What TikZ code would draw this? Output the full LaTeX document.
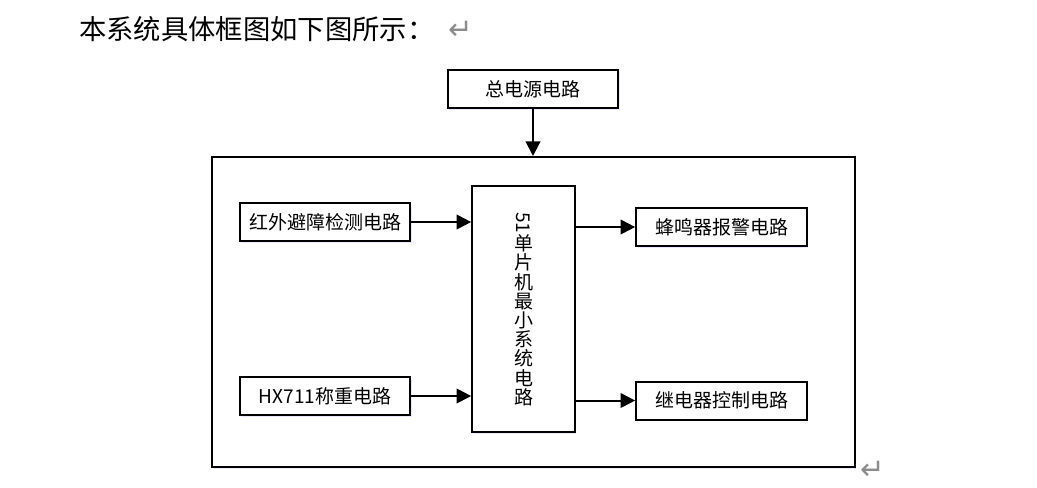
\documentclass[tikz,border=0pt]{standalone}
\usepackage{fontspec}
\setmainfont{Noto Sans CJK SC}
\newfontfamily\symfont{DejaVu Sans}
\usepackage{graphicx}
\usetikzlibrary{arrows.meta}
\usetikzlibrary{shadows}

\begin{document}
\begin{tikzpicture}[x=0.75pt,y=-0.75pt,
    blk/.style={draw,line width=1.5pt,fill=white,inner sep=0pt,
        minimum width=128pt,minimum height=28.5pt,
        font=\fontsize{14.25pt}{19pt}\selectfont,
        drop shadow={shadow xshift=1.2pt,shadow yshift=-1.2pt,fill=blue!12,opacity=0.7}},
    arr/.style={-{Triangle[length=11pt,width=11pt]},line width=1.5pt},
    ret/.style={text=black!45,inner sep=0pt,font=\symfont\fontsize{22pt}{22pt}\selectfont}]
    \useasboundingbox (0,0) rectangle (1037,487);
    % title line
    \node[anchor=west,inner sep=0pt,font=\fontsize{20.5pt}{24pt}\selectfont] (title) at (79,29) {本系统具体框图如下图所示：};
    \node[ret] (ret1) at (461,30) {↵};
    % outer frame
    \node[draw,line width=1.5pt,minimum width=482pt,minimum height=232.5pt,inner sep=0pt,
        drop shadow={shadow xshift=1.2pt,shadow yshift=-1.2pt,fill=blue!12,opacity=0.7},fill=white] (sys) at (533.5,312) {};
    \node[ret] (ret2) at (873,470) {↵};
    % blocks
    \node[blk] (power) at (533,89) {总电源电路};
    \node[blk] (ir) at (325,222) {红外避障检测电路};
    \node[blk] (hx) at (325,396) {HX711称重电路};
    \node[blk,minimum width=77pt,minimum height=184.5pt,align=center,
        font=\fontsize{14.25pt}{14.4pt}\selectfont] (mcu) at (523.5,309)
        {\rotatebox{-90}{51}\\单\\片\\机\\最\\小\\系\\统\\电\\路};
    \node[blk] (buzz) at (721.5,227) {蜂鸣器报警电路};
    \node[blk] (relay) at (721.5,400.5) {继电器控制电路};
    % connections
    \draw[arr] (power.south) -- (power.south |- sys.north);
    \draw[arr] (ir.east) -- (ir.east -| mcu.west);
    \draw[arr] (hx.east) -- (hx.east -| mcu.west);
    \draw[arr] (mcu.east |- buzz.west) -- (buzz.west);
    \draw[arr] (mcu.east |- relay.west) -- (relay.west);
\end{tikzpicture}
\end{document}
